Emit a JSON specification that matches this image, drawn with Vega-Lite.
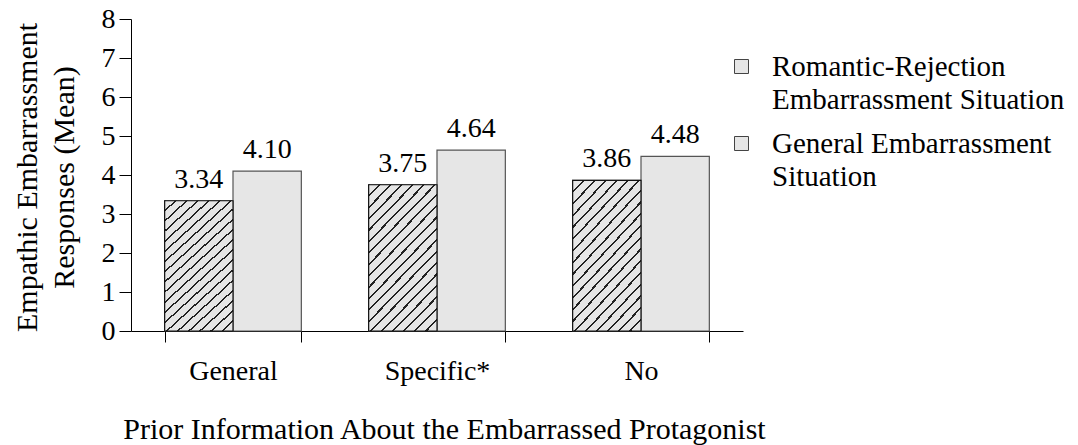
{
  "$schema": "https://vega.github.io/schema/vega-lite/v6.json",
  "autosize": {"type": "none"},
  "width": 612,
  "height": 312,
  "padding": {"left": 131, "top": 19, "right": 335, "bottom": 114},
  "config": {
    "font": "Liberation Serif",
    "view": {"stroke": null},
    "axis": {"titleFontWeight": "normal", "domainColor": "#000", "tickColor": "#000", "labelColor": "#000", "titleColor": "#000", "grid": false},
    "legend": {"labelColor": "#000"}
  },
  "data": {"values": [
    {"info": "General", "series": "Romantic-Rejection Embarrassment Situation", "mean": 3.34},
    {"info": "General", "series": "General Embarrassment Situation", "mean": 4.10},
    {"info": "Specific*", "series": "Romantic-Rejection Embarrassment Situation", "mean": 3.75},
    {"info": "Specific*", "series": "General Embarrassment Situation", "mean": 4.64},
    {"info": "No", "series": "Romantic-Rejection Embarrassment Situation", "mean": 3.86},
    {"info": "No", "series": "General Embarrassment Situation", "mean": 4.48}
  ]},
  "encoding": {
    "x": {
      "field": "info", "type": "nominal", "sort": ["General", "Specific*", "No"],
      "scale": {"paddingInner": 0.33, "paddingOuter": 0.165},
      "axis": {
        "title": "Prior Information About the Embarrassed Protagonist",
        "labelAngle": 0, "labelFontSize": 28, "labelBaseline": "alphabetic", "labelPadding": 37,
        "tickBand": "extent", "tickSize": 11, "domainColor": "#000",
        "titleFontSize": 30, "titleBaseline": "alphabetic", "titleY": 107, "titleX": 313
      }
    },
    "xOffset": {"field": "series", "type": "nominal", "sort": ["Romantic-Rejection Embarrassment Situation", "General Embarrassment Situation"], "scale": {"paddingInner": 0, "paddingOuter": 0}},
    "y": {
      "field": "mean", "type": "quantitative",
      "scale": {"domain": [0, 8], "nice": false},
      "axis": {
        "title": ["Empathic Embarrassment", "Responses (Mean)"],
        "values": [0, 1, 2, 3, 4, 5, 6, 7, 8],
        "labelFontSize": 28, "labelPadding": 4, "tickSize": 12,
        "titleFontSize": 30, "titleAngle": -90, "titleAlign": "center", "titleBaseline": "alphabetic",
        "titleLineHeight": 37, "titleX": -95, "titleY": 158
      }
    }
  },
  "layer": [
    {
      "mark": {"type": "bar", "stroke": "#555", "strokeWidth": 1.2},
      "encoding": {
        "fill": {
          "field": "series", "type": "nominal",
          "sort": ["Romantic-Rejection Embarrassment Situation", "General Embarrassment Situation"],
          "scale": {"domain": ["Romantic-Rejection Embarrassment Situation", "General Embarrassment Situation"], "range": ["#e6e6e6", "#e6e6e6"]},
          "legend": {
            "title": null, "orient": "none", "legendX": 596, "legendY": 33,
            "symbolType": "square", "symbolSize": 196, "symbolStrokeColor": "#444", "symbolStrokeWidth": 1,
            "labelFontSize": 29, "labelOffset": 16, "labelLimit": 0, "rowPadding": 14, "padding": 0,
            "labelExpr": "datum.label == 'Romantic-Rejection Embarrassment Situation' ? ['Romantic-Rejection', 'Embarrassment Situation'] : ['General Embarrassment', 'Situation']",
            "encode": {
              "labels": {"update": {"lineHeight": {"value": 33}}},
              "symbols": {"update": {
                "stroke": {"value": "#444"},
                "strokeWidth": {"value": 1},
                "fill": [
                {"test": "indexof(datum.label, 'Romantic') >= 0", "value": {"gradient": "linear", "x1": 0, "y1": 0, "x2": 1, "y2": 1, "stops": [
                  {"offset": 0, "color": "#e6e6e6"},
                  {"offset": 0.21, "color": "#e6e6e6"}, {"offset": 0.21, "color": "#222"}, {"offset": 0.29, "color": "#222"}, {"offset": 0.29, "color": "#e6e6e6"},
                  {"offset": 0.46, "color": "#e6e6e6"}, {"offset": 0.46, "color": "#222"}, {"offset": 0.54, "color": "#222"}, {"offset": 0.54, "color": "#e6e6e6"},
                  {"offset": 0.71, "color": "#e6e6e6"}, {"offset": 0.71, "color": "#222"}, {"offset": 0.79, "color": "#222"}, {"offset": 0.79, "color": "#e6e6e6"},
                  {"offset": 1, "color": "#e6e6e6"}
                ]}},
                {"value": "#e6e6e6"}
              ]}}
            }
          }
        }
      }
    },
    {
      "transform": [{"filter": "datum.series == 'Romantic-Rejection Embarrassment Situation'"}],
      "mark": {"type": "bar", "stroke": "#111", "strokeWidth": 1.2, "fill": {"gradient": "linear", "x1": 0, "y1": 0, "x2": 0.58, "y2": 1.203, "stops": [
        {"offset": 0, "color": "#222"}, {"offset": 0.005, "color": "#222"}, {"offset": 0.005, "color": "#e6e6e6"},
        {"offset": 0.0476, "color": "#e6e6e6"}, {"offset": 0.0476, "color": "#222"}, {"offset": 0.0576, "color": "#222"}, {"offset": 0.0576, "color": "#e6e6e6"},
        {"offset": 0.1003, "color": "#e6e6e6"}, {"offset": 0.1003, "color": "#222"}, {"offset": 0.1103, "color": "#222"}, {"offset": 0.1103, "color": "#e6e6e6"},
        {"offset": 0.1529, "color": "#e6e6e6"}, {"offset": 0.1529, "color": "#222"}, {"offset": 0.1629, "color": "#222"}, {"offset": 0.1629, "color": "#e6e6e6"},
        {"offset": 0.2055, "color": "#e6e6e6"}, {"offset": 0.2055, "color": "#222"}, {"offset": 0.2155, "color": "#222"}, {"offset": 0.2155, "color": "#e6e6e6"},
        {"offset": 0.2582, "color": "#e6e6e6"}, {"offset": 0.2582, "color": "#222"}, {"offset": 0.2682, "color": "#222"}, {"offset": 0.2682, "color": "#e6e6e6"},
        {"offset": 0.3108, "color": "#e6e6e6"}, {"offset": 0.3108, "color": "#222"}, {"offset": 0.3208, "color": "#222"}, {"offset": 0.3208, "color": "#e6e6e6"},
        {"offset": 0.3634, "color": "#e6e6e6"}, {"offset": 0.3634, "color": "#222"}, {"offset": 0.3734, "color": "#222"}, {"offset": 0.3734, "color": "#e6e6e6"},
        {"offset": 0.4161, "color": "#e6e6e6"}, {"offset": 0.4161, "color": "#222"}, {"offset": 0.4261, "color": "#222"}, {"offset": 0.4261, "color": "#e6e6e6"},
        {"offset": 0.4687, "color": "#e6e6e6"}, {"offset": 0.4687, "color": "#222"}, {"offset": 0.4787, "color": "#222"}, {"offset": 0.4787, "color": "#e6e6e6"},
        {"offset": 0.5213, "color": "#e6e6e6"}, {"offset": 0.5213, "color": "#222"}, {"offset": 0.5313, "color": "#222"}, {"offset": 0.5313, "color": "#e6e6e6"},
        {"offset": 0.5739, "color": "#e6e6e6"}, {"offset": 0.5739, "color": "#222"}, {"offset": 0.5839, "color": "#222"}, {"offset": 0.5839, "color": "#e6e6e6"},
        {"offset": 0.6266, "color": "#e6e6e6"}, {"offset": 0.6266, "color": "#222"}, {"offset": 0.6366, "color": "#222"}, {"offset": 0.6366, "color": "#e6e6e6"},
        {"offset": 0.6792, "color": "#e6e6e6"}, {"offset": 0.6792, "color": "#222"}, {"offset": 0.6892, "color": "#222"}, {"offset": 0.6892, "color": "#e6e6e6"},
        {"offset": 0.7318, "color": "#e6e6e6"}, {"offset": 0.7318, "color": "#222"}, {"offset": 0.7418, "color": "#222"}, {"offset": 0.7418, "color": "#e6e6e6"},
        {"offset": 0.7845, "color": "#e6e6e6"}, {"offset": 0.7845, "color": "#222"}, {"offset": 0.7945, "color": "#222"}, {"offset": 0.7945, "color": "#e6e6e6"},
        {"offset": 0.8371, "color": "#e6e6e6"}, {"offset": 0.8371, "color": "#222"}, {"offset": 0.8471, "color": "#222"}, {"offset": 0.8471, "color": "#e6e6e6"},
        {"offset": 0.8897, "color": "#e6e6e6"}, {"offset": 0.8897, "color": "#222"}, {"offset": 0.8997, "color": "#222"}, {"offset": 0.8997, "color": "#e6e6e6"},
        {"offset": 0.9424, "color": "#e6e6e6"}, {"offset": 0.9424, "color": "#222"}, {"offset": 0.9524, "color": "#222"}, {"offset": 0.9524, "color": "#e6e6e6"},
        {"offset": 1, "color": "#e6e6e6"}
      ]}}
    },
    {
      "mark": {"type": "text", "baseline": "alphabetic", "dy": -13, "fontSize": 28, "color": "#000"},
      "encoding": {"text": {"field": "mean", "type": "quantitative", "format": ".2f"}}
    }
  ]
}
